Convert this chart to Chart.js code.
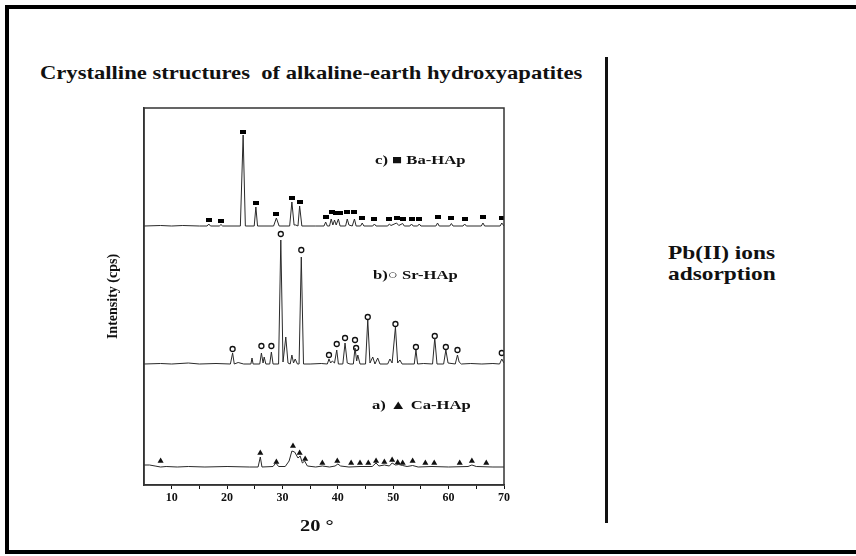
<!DOCTYPE html>
<html>
<head>
<meta charset="utf-8">
<script src="https://cdn.jsdelivr.net/npm/chart.js@4.4.1/dist/chart.umd.min.js"></script>
<style>
  html, body { margin: 0; padding: 0; background: #fff; }
  #page { position: relative; width: 856px; height: 556px; overflow: hidden; font-family: 'Liberation Serif', 'Times New Roman', serif; font-weight: bold; color: #111; }
  #frame { position: absolute; left: 5px; top: 5px; width: 900px; height: 549px; border: 4px solid #000; box-sizing: border-box; }
  #title { position: absolute; left: 40px; top: 62px; font-size: 19px; line-height: 22px; white-space: pre; transform: scaleX(1.19); transform-origin: 0 0; }
  #divider { position: absolute; left: 605px; top: 57px; width: 3px; height: 466px; background: #111; }
  #side { position: absolute; left: 668px; top: 242px; font-size: 19px; line-height: 21px; transform: scaleX(1.23); transform-origin: 0 0; }
  #xtitle { position: absolute; left: 300px; top: 516px; font-size: 17px; line-height: 20px; white-space: pre; transform: scaleX(1.2); transform-origin: 0 0; }
  .lbl { position: absolute; font-size: 13px; line-height: 16px; white-space: pre; transform: scaleX(1.28); transform-origin: 0 0; }
  canvas { position: absolute; left: 0; top: 0; }
</style>
</head>
<body>
<div id="page">
  <div id="frame"></div>
  <div id="title">Crystalline structures  of alkaline-earth hydroxyapatites</div>
  <div id="divider"></div>
  <div id="side">Pb(II) ions<br>adsorption</div>
  <canvas id="xrd" width="856" height="556"></canvas>
  <div class="lbl" style="left:375px; top:152px;">c) ■ Ba-HAp</div>
  <div class="lbl" style="left:373px; top:267px;">b)○ Sr-HAp</div>
  <div class="lbl" style="left:372px; top:397px;">a) ▲ Ca-HAp</div>
  <div id="xtitle">20 °</div>
</div>
<script>
// diffractogram traces, 2theta (deg) and intensity (offset stacked, a.u.)
var baTheta = [5,8,10,12,15,16.4,16.7,17.0,18.6,18.9,19.2,22.4,22.9,23.3,24.9,25.2,25.5,28.4,28.9,29.4,31.3,31.7,32.1,32.4,32.8,33.1,33.5,36,37.5,37.8,38.1,38.5,38.8,39.1,39.4,39.7,40.1,40.4,41.4,41.7,42.0,42.6,43.0,43.3,44.1,44.4,44.7,46.3,46.6,46.9,49,49.3,49.6,50.6,51,51.7,52,53,53.3,53.6,54.4,54.7,55,57.7,58.0,58.3,60.2,60.5,60.8,62.6,62.9,63.2,65.9,66.2,66.5,69.3,69.6,70];
var baInt   = [259,259.5,259,259.5,259,259,261,259,259,260.5,259,259,350,259,259,278,259,259,267,259,259,283,260,260,259,279,259,259,259,263,259,259,266,260,265,260,266,259,259,266,260,259,266,259,259,262,259,259,261,259,259,261,259.5,262,259.5,261.5,259,259,261,259,259,261,259,259,262,259,259,261.5,259,259,261,259,259,262,259,259,262,259];

var srTheta = [5,8,10,13,15,18,20.6,21.0,21.3,22,23,24.3,24.5,24.7,25.9,26.2,26.5,26.7,27.0,27.7,28.0,28.3,29.3,29.7,30.1,30.6,31.0,31.4,31.7,32.0,32.3,32.7,33.0,33.4,33.8,35,37,38.1,38.4,38.7,39.0,39.4,39.8,40.1,40.9,41.3,41.7,42.2,42.8,43.1,43.4,43.6,44.0,45.0,45.4,45.8,46.3,46.7,47.2,47.6,49,49.4,49.8,50.4,50.8,51.2,51.6,52.5,53.8,54.1,54.4,55.5,57.1,57.5,57.9,59.1,59.5,59.9,61.2,61.6,61.9,62.3,64,66,68,69.2,69.6,70];
var srInt   = [121,121.5,121,122,121,121.5,121,132,121,122.5,121,121,127,121,121,132,122,128,121,121,133,121,121,245,123,148,122,121,130,122,126,121,121,228,121,121,121.5,121,126,122,124,122,135,121,121,142,122,121,121,137,124,130,121,121,165,122,128,121,127,121,121,126,122,158,122,125,121,121,121,135,121,121.5,121,147,121,121,135,122,121,130,123,121,121.5,121,121.5,121,126,122];

var caTheta = [5,6,7,8,9,11,13,16,20,24,25.6,26.0,26.3,28.3,28.8,29.3,30.5,31.2,31.7,32.2,32.8,33.2,33.6,34.0,34.5,36,37.2,38.5,39.5,40.0,40.5,42,44,46.2,46.9,47.4,48.4,49.3,49.8,50.4,51,51.7,52.5,53.5,54.5,57,60,63.5,64.2,65,68,70];
var caInt   = [20,20,19,18,18.5,18,18.5,18,18.5,18,18,28,18,18.5,22,18.5,18.5,24,34,33,27,29,22,24,19,18,19,18,19,21,19,18,18.5,18.5,22,19,20,19,22,20,20.5,19.5,18.5,19.5,18,18.5,18,18.5,20,18.5,18,18];

// phase reflection markers
var baMarkTheta = [16.7,18.9,22.9,25.2,28.9,31.7,33.1,37.8,38.9,39.6,40.3,41.7,43.0,44.4,46.6,49.3,50.6,51.7,53.3,54.7,58.0,60.5,62.9,66.2,69.6];
var baMarkInt   = [265,264,353,282,271,287,283,268,273,272,272,273,273,267,266,266,267,266,266,266,268,267,266,268,267];
var srMarkTheta = [21.0,26.2,28.0,29.7,33.4,38.4,39.8,41.3,43.1,43.3,45.4,50.4,54.1,57.5,59.5,61.6,69.6];
var srMarkInt   = [136,139,139,251,235,130,141,147,145,137,168,161,138,149,138,135,132];
var caMarkTheta = [8.0,26.0,28.9,31.9,33.1,34.1,37.2,39.9,42.4,44.0,45.5,46.9,48.4,49.8,50.8,51.7,53.5,55.8,57.4,62.0,64.2,66.8];
var caMarkInt   = [24,32,23,39,32,26,22,24,22,22,22,24,23,25,22.5,22,24,22,22,22,24,22];

var xTicks = [10,15,20,25,30,35,40,45,50,55,60,65,70];

function pts(xs, ys) {
  return xs.map(function (x, i) { return { x: x, y: ys[i] }; });
}

var rectMark = document.createElement('canvas');
rectMark.width = 6; rectMark.height = 4;
rectMark.getContext('2d').fillRect(0, 0, 6, 4);

var serif = "'Liberation Serif', 'Times New Roman', serif";

var boxPlugin = {
  id: 'box',
  afterDraw: function (chart) {
    var a = chart.chartArea, c = chart.ctx;
    c.save();
    c.strokeStyle = '#333';
    c.lineWidth = 1.5;
    c.strokeRect(a.left, a.top, a.right - a.left, a.bottom - a.top);
    c.restore();
  }
};

function lineSet(data) {
  return { type: 'line', data: data, borderColor: '#2a2a2a', borderWidth: 1, pointRadius: 0, tension: 0, fill: false };
}

new Chart(document.getElementById('xrd'), {
  type: 'scatter',
  data: {
    datasets: [
      lineSet(pts(baTheta, baInt)),
      lineSet(pts(srTheta, srInt)),
      lineSet(pts(caTheta, caInt)),
      { data: pts(baMarkTheta, baMarkInt), pointStyle: rectMark, pointRadius: 3 },
      { data: pts(srMarkTheta, srMarkInt), pointStyle: 'circle', pointRadius: 2.5, backgroundColor: '#fff', borderColor: '#111', borderWidth: 1.3 },
      { data: pts(caMarkTheta, caMarkInt), pointStyle: 'triangle', pointRadius: 3.5, backgroundColor: '#111', borderColor: '#111', borderWidth: 0 }
    ]
  },
  options: {
    responsive: false,
    animation: false,
    events: [],
    layout: { padding: { left: 100, top: 108, right: 352, bottom: 15 } },
    plugins: { legend: { display: false }, tooltip: { enabled: false } },
    scales: {
      x: {
        type: 'linear', min: 5, max: 70,
        afterBuildTicks: function (s) { s.ticks = xTicks.map(function (v) { return { value: v }; }); },
        afterFit: function (s) { s.height = 56; },
        grid: { drawOnChartArea: false, drawTicks: true, tickLength: 4, color: '#111' },
        border: { color: '#333', width: 1.5 },
        ticks: {
          autoSkip: false, maxRotation: 0, padding: 2, color: '#111',
          font: { family: serif, weight: 'bold', size: 12 },
          callback: function (v) { return v % 10 === 0 ? v : ''; }
        },
        title: { display: false }
      },
      y: {
        min: 0, max: 377,
        afterFit: function (s) { s.width = 44; },
        grid: { display: false },
        border: { color: '#333', width: 1.5 },
        ticks: { display: false },
        title: { display: true, text: 'Intensity (cps)', color: '#111', font: { family: serif, weight: 'bold', size: 14 }, padding: 5 }
      }
    }
  },
  plugins: [boxPlugin]
});
</script>
</body>
</html>
